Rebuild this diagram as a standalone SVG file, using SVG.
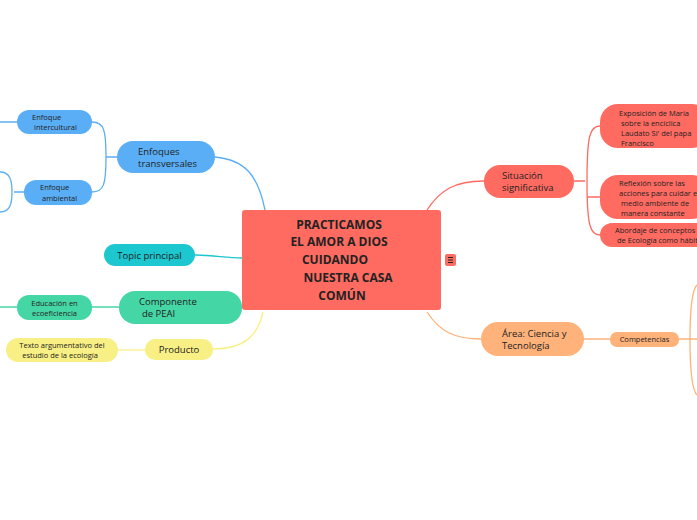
<svg xmlns="http://www.w3.org/2000/svg" width="697" height="520" viewBox="0 0 697 520">
<style>
text{font-family:"Open Sans","Noto Sans",sans-serif;fill:#222}
.s{font-size:7.5px}.m{font-size:9.5px}
.c{fill:none;stroke-width:1.3}
</style>
<rect width="697" height="520" fill="#fff"/>
<g id="connectors">
<path class="c" stroke="#5aaef5" d="M215,157 C245,160 258,175 265,210"/>
<path class="c" stroke="#5aaef5" d="M117,157 L106,157 M92,122 C104,122 106,130 106,157 C106,184 104,192 92,192"/>
<path class="c" stroke="#5aaef5" d="M17,122 L0,122 M24,192 L14,192 M0,172 C10,172 12,180 12,192 C12,204 10,212 0,212"/>
<path class="c" stroke="#1cc7d0" d="M195,255 C215,255 225,258 242,258"/>
<path class="c" stroke="#45d6a5" d="M242,307 C250,305 240,302 244,300"/>
<path class="c" stroke="#45d6a5" d="M92,307 L119,307 M0,307 L17,307"/>
<path class="c" stroke="#f8f084" d="M213,349 C245,349 258,335 263,312"/>
<path class="c" stroke="#f8f084" d="M118,350 L145,350"/>
<path class="c" stroke="#ff6b61" d="M427,210 C440,190 455,181 484,181"/>
<path class="c" stroke="#ff6b61" d="M574,181 L585,181 M600,126 C590,126 587,135 587,181 C587,225 590,235 600,235 M587,197 C590,197 595,197 600,197"/>
<path class="c" stroke="#ffb27a" d="M427,312 C440,332 455,339 481,339"/>
<path class="c" stroke="#ffb27a" d="M584,339 L610,339 M679,339 L697,339 M697,285 C692,290 690,310 690,339 C690,370 692,390 697,395"/>
</g>
<g id="central"><rect x="242" y="210" width="199" height="100" rx="3" fill="#ff6b61"/>
<text x="342" font-size="12" font-weight="bold" text-anchor="middle"><tspan x="339" y="229">PRACTICAMOS</tspan><tspan x="339" y="246">EL AMOR A DIOS</tspan><tspan x="335" y="264">CUIDANDO</tspan><tspan x="348" y="282">NUESTRA CASA</tspan><tspan x="342" y="300">COMÚN</tspan></text></g>
<g id="menu"><rect x="445" y="254" width="11" height="12" rx="2" fill="#ff6b61"/><path d="M448,257.5h5M448,260h5M448,262.5h5" stroke="#222" stroke-width="1"/></g>
<g id="enfoques"><rect x="117" y="141" width="98" height="32" rx="16" fill="#5aaef5"/><text class="m" x="138" y="155">Enfoques</text><text class="m" x="138" y="167">transversales</text></g>
<g id="intercultural"><rect x="17" y="110" width="75" height="24" rx="12" fill="#5aaef5"/><text class="s" x="32" y="120">Enfoque</text><text class="s" x="34" y="130">intercultural</text></g>
<g id="ambiental"><rect x="24" y="180" width="68" height="25" rx="12" fill="#5aaef5"/><text class="s" x="40" y="190">Enfoque</text><text class="s" x="42" y="201">ambiental</text></g>
<g id="topic"><rect x="104" y="244" width="91" height="22" rx="11" fill="#1cc7d0"/><text class="m" x="149.5" y="259" text-anchor="middle">Topic principal</text></g>
<g id="peai"><rect x="119" y="291" width="123" height="33" rx="16" fill="#45d6a5"/><text class="m" x="139" y="305">Componente</text><text class="m" x="142" y="317">de PEAI</text></g>
<g id="eco"><rect x="17" y="295" width="75" height="25" rx="12" fill="#45d6a5"/><text class="s" x="54.5" y="306" text-anchor="middle">Educación en</text><text class="s" x="54.5" y="316" text-anchor="middle">ecoeficiencia</text></g>
<g id="producto"><rect x="145" y="339" width="68" height="21" rx="10" fill="#f8f084"/><text class="m" x="179" y="353" text-anchor="middle">Producto</text></g>
<g id="texto"><rect x="6" y="338" width="112" height="24" rx="12" fill="#f8f084"/><text class="s" x="62" y="348" text-anchor="middle">Texto argumentativo del</text><text class="s" x="60" y="358" text-anchor="middle">estudio de la ecología</text></g>
<g id="situacion"><rect x="484" y="165" width="90" height="33" rx="16" fill="#ff6b61"/><text class="m" x="502" y="179">Situación</text><text class="m" x="502" y="191">significativa</text></g>
<g id="exposicion"><rect x="600" y="104" width="110" height="44" rx="18" fill="#ff6b61"/><text class="s"><tspan x="619" y="116">Exposición de María</tspan><tspan x="621" y="126">sobre la encíclica</tspan><tspan x="621" y="136">Laudato Si' del papa</tspan><tspan x="621" y="146">Francisco</tspan></text></g>
<g id="reflexion"><rect x="600" y="175" width="110" height="44" rx="18" fill="#ff6b61"/><text class="s"><tspan x="619" y="186">Reflexión sobre las</tspan><tspan x="619" y="196">acciones para cuidar el</tspan><tspan x="621" y="206">medio ambiente de</tspan><tspan x="621" y="216">manera constante</tspan></text></g>
<g id="abordaje"><rect x="600" y="223" width="110" height="24" rx="12" fill="#ff6b61"/><text class="s"><tspan x="615" y="233">Abordaje de conceptos</tspan><tspan x="617" y="243">de Ecología como hábitat</tspan></text></g>
<g id="area"><rect x="481" y="322" width="103" height="34" rx="17" fill="#ffb27a"/><text class="m" x="502" y="337">Área: Ciencia y</text><text class="m" x="502" y="349">Tecnología</text></g>
<g id="competencias"><rect x="610" y="332" width="69" height="15" rx="7" fill="#ffb27a"/><text class="s" x="644.5" y="342" text-anchor="middle">Competencias</text></g>
</svg>
